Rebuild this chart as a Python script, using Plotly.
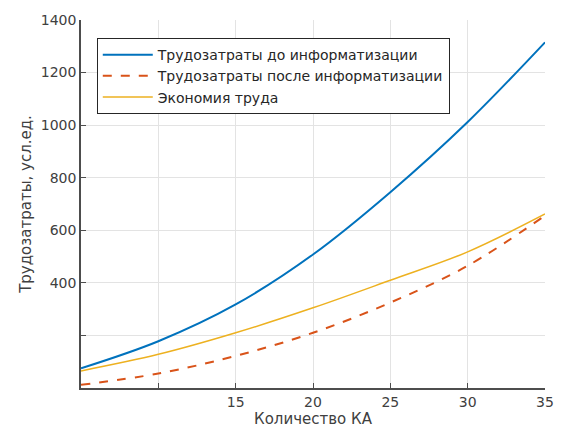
import plotly.graph_objects as go

# Number of spacecraft (x) and labour costs, conventional units
ka_count = [5, 10, 15, 20, 25, 30, 35]
cost_before = [75, 178, 318, 508, 745, 1012, 1315]
cost_after = [12, 55, 122, 210, 325, 465, 656]
labour_saving = [65, 128, 210, 305, 410, 518, 662]

x_tickvals = [10, 15, 20, 25, 30, 35]
x_ticktext = ["", "15", "20", "25", "30", "35"]
y_tickvals = [0, 200, 400, 600, 800, 1000, 1200, 1400]
y_ticktext = ["", "", "400", "600", "800", "1000", "1200", "1400"]

names = [
    "Трудозатраты до информатизации",
    "Трудозатраты после информатизации",
    "Экономия труда",
]

FONT = "DejaVu Sans, Liberation Sans, Arial"

fig = go.Figure()
fig.add_trace(go.Scatter(x=ka_count, y=cost_before, mode="lines", name=names[0],
                         line=dict(color="#0072BD", width=2, shape="spline")))
fig.add_trace(go.Scatter(x=ka_count, y=cost_after, mode="lines", name=names[1],
                         line=dict(color="#D95319", width=2, dash="dash", shape="spline")))
fig.add_trace(go.Scatter(x=ka_count, y=labour_saving, mode="lines", name=names[2],
                         line=dict(color="#EDB120", width=1.5, shape="spline")))

axis_common = dict(
    showgrid=True, gridcolor="#e3e3e3", gridwidth=1,
    showline=True, linecolor="#4d4d4d", linewidth=1.5,
    ticks="inside", ticklen=5, tickcolor="#4d4d4d",
    zeroline=False, mirror=False,
    tickfont=dict(family=FONT, size=14, color="#404040"),
)

fig.update_xaxes(range=[5, 35], tickvals=x_tickvals, ticktext=x_ticktext,
                 title=dict(text="Количество КА", standoff=4,
                            font=dict(family=FONT, size=15, color="#404040")),
                 **axis_common)
fig.update_yaxes(range=[0, 1400], tickvals=y_tickvals, ticktext=y_ticktext,
                 title=dict(text="Трудозатраты, усл.ед.", standoff=6,
                            font=dict(family=FONT, size=15, color="#404040")),
                 **axis_common)

fig.update_layout(
    width=566, height=439,
    margin=dict(l=81, r=12, t=17, b=51),
    paper_bgcolor="white", plot_bgcolor="white",
    showlegend=True,
    legend=dict(
        x=0.034, y=0.951, xanchor="left", yanchor="top",
        bgcolor="white", bordercolor="#262626", borderwidth=1,
        font=dict(family=FONT, size=14, color="#262626"),
        itemwidth=50, tracegroupgap=0,
    ),
)

fig.write_html("out.html")
